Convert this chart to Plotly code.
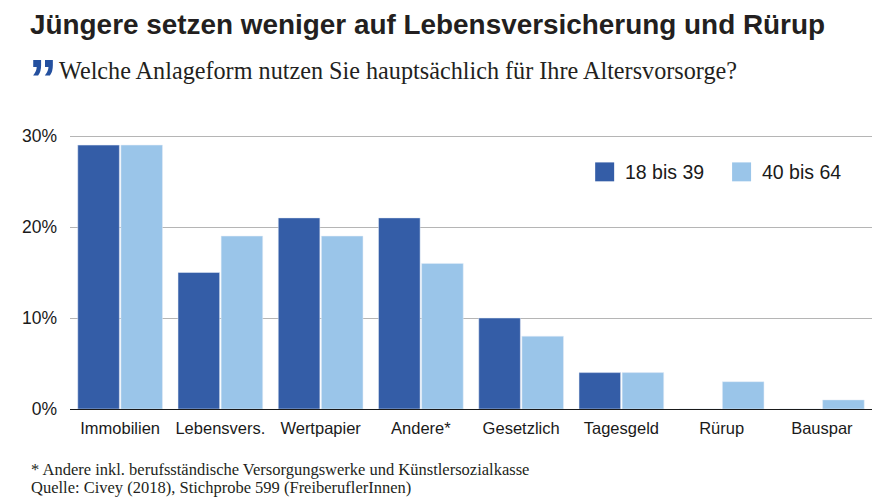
import plotly.graph_objects as go

W = 888
H = 502
L, R, T, B = 69.5, 872, 133.5, 409.5

categories = ["Immobilien", "Lebensvers.", "Wertpapier", "Andere*", "Gesetzlich", "Tagesgeld", "Rürup", "Bauspar"]
jung = [29, 15, 21, 21, 10, 4, 0, 0]
alt = [29, 19, 19, 16, 8, 4, 3, 1]
y_ticks = [0, 10, 20, 30]
y_labels = ["0%", "10%", "20%", "30%"]

DARK = "#345da7"
LIGHT = "#9ac5e9"
SANS = "Liberation Sans"
SERIF = "Liberation Serif"


def px(x):
    return (x - L) / (R - L)


def py(y):
    return (B - y) / (B - T)


def label(text, x, y, size, font, color="#231f20", anchor="left"):
    fig.add_annotation(
        text=text, x=px(x), y=py(y), xref="paper", yref="paper",
        xanchor=anchor, yanchor="middle", showarrow=False,
        font=dict(family=font, size=size, color=color),
    )


fig = go.Figure()
fig.add_trace(go.Bar(x=categories, y=jung, name="18 bis 39", marker_color=DARK))
fig.add_trace(go.Bar(x=categories, y=alt, name="40 bis 64", marker_color=LIGHT))

fig.update_layout(
    width=W, height=H,
    margin=dict(l=L, r=W - R, t=T, b=H - B, pad=0),
    paper_bgcolor="white", plot_bgcolor="white",
    barmode="group", bargap=0.14, bargroupgap=0.035,
    showlegend=False,
    font=dict(family=SANS, color="#1a1a1a"),
)
fig.update_xaxes(
    showline=True, linecolor="#1a1a1a", linewidth=1, ticks="",
    tickfont=dict(size=16.5, family=SANS, color="#1a1a1a"), ticklabelstandoff=4,
)
# top of range a bit above 30 so the 30% gridline is still drawn
fig.update_yaxes(
    range=[0, 30.22], tickvals=y_ticks, ticktext=y_labels, showgrid=True,
    gridcolor="#b5b5b5", gridwidth=1, zeroline=False, ticks="",
    tickfont=dict(size=17.5, family=SANS, color="#1a1a1a"), ticklabelstandoff=12,
)

label("<b>Jüngere setzen weniger auf Lebensversicherung und Rürup</b>", 27.5, 24, 27.9, SANS)
label("<b>”</b>", 26, 78, 56, SANS, color="#24509f")
label("Welche Anlageform nutzen Sie hauptsächlich für Ihre Altersvorsorge?", 56.5, 70, 24.2, SERIF)
label("* Andere inkl. berufsständische Versorgungswerke und Künstlersozialkasse", 28.5, 470, 16.5, SERIF)
label("Quelle: Civey (2018), Stichprobe 599 (FreiberuflerInnen)", 28.5, 488, 16.5, SERIF)

# legend drawn by hand, the built-in swatches are too small
for x0, colour, text in [(595, DARK, "18 bis 39"), (732, LIGHT, "40 bis 64")]:
    fig.add_shape(type="rect", xref="paper", yref="paper", x0=px(x0), x1=px(x0 + 19),
                  y0=py(181), y1=py(162), fillcolor=colour, line_width=0)
    label(text, x0 + 28, 172, 19.5, SANS, color="#1a1a1a")

fig.write_html("out.html", config=dict(displayModeBar=False), post_script="document.body.style.margin='0';")
